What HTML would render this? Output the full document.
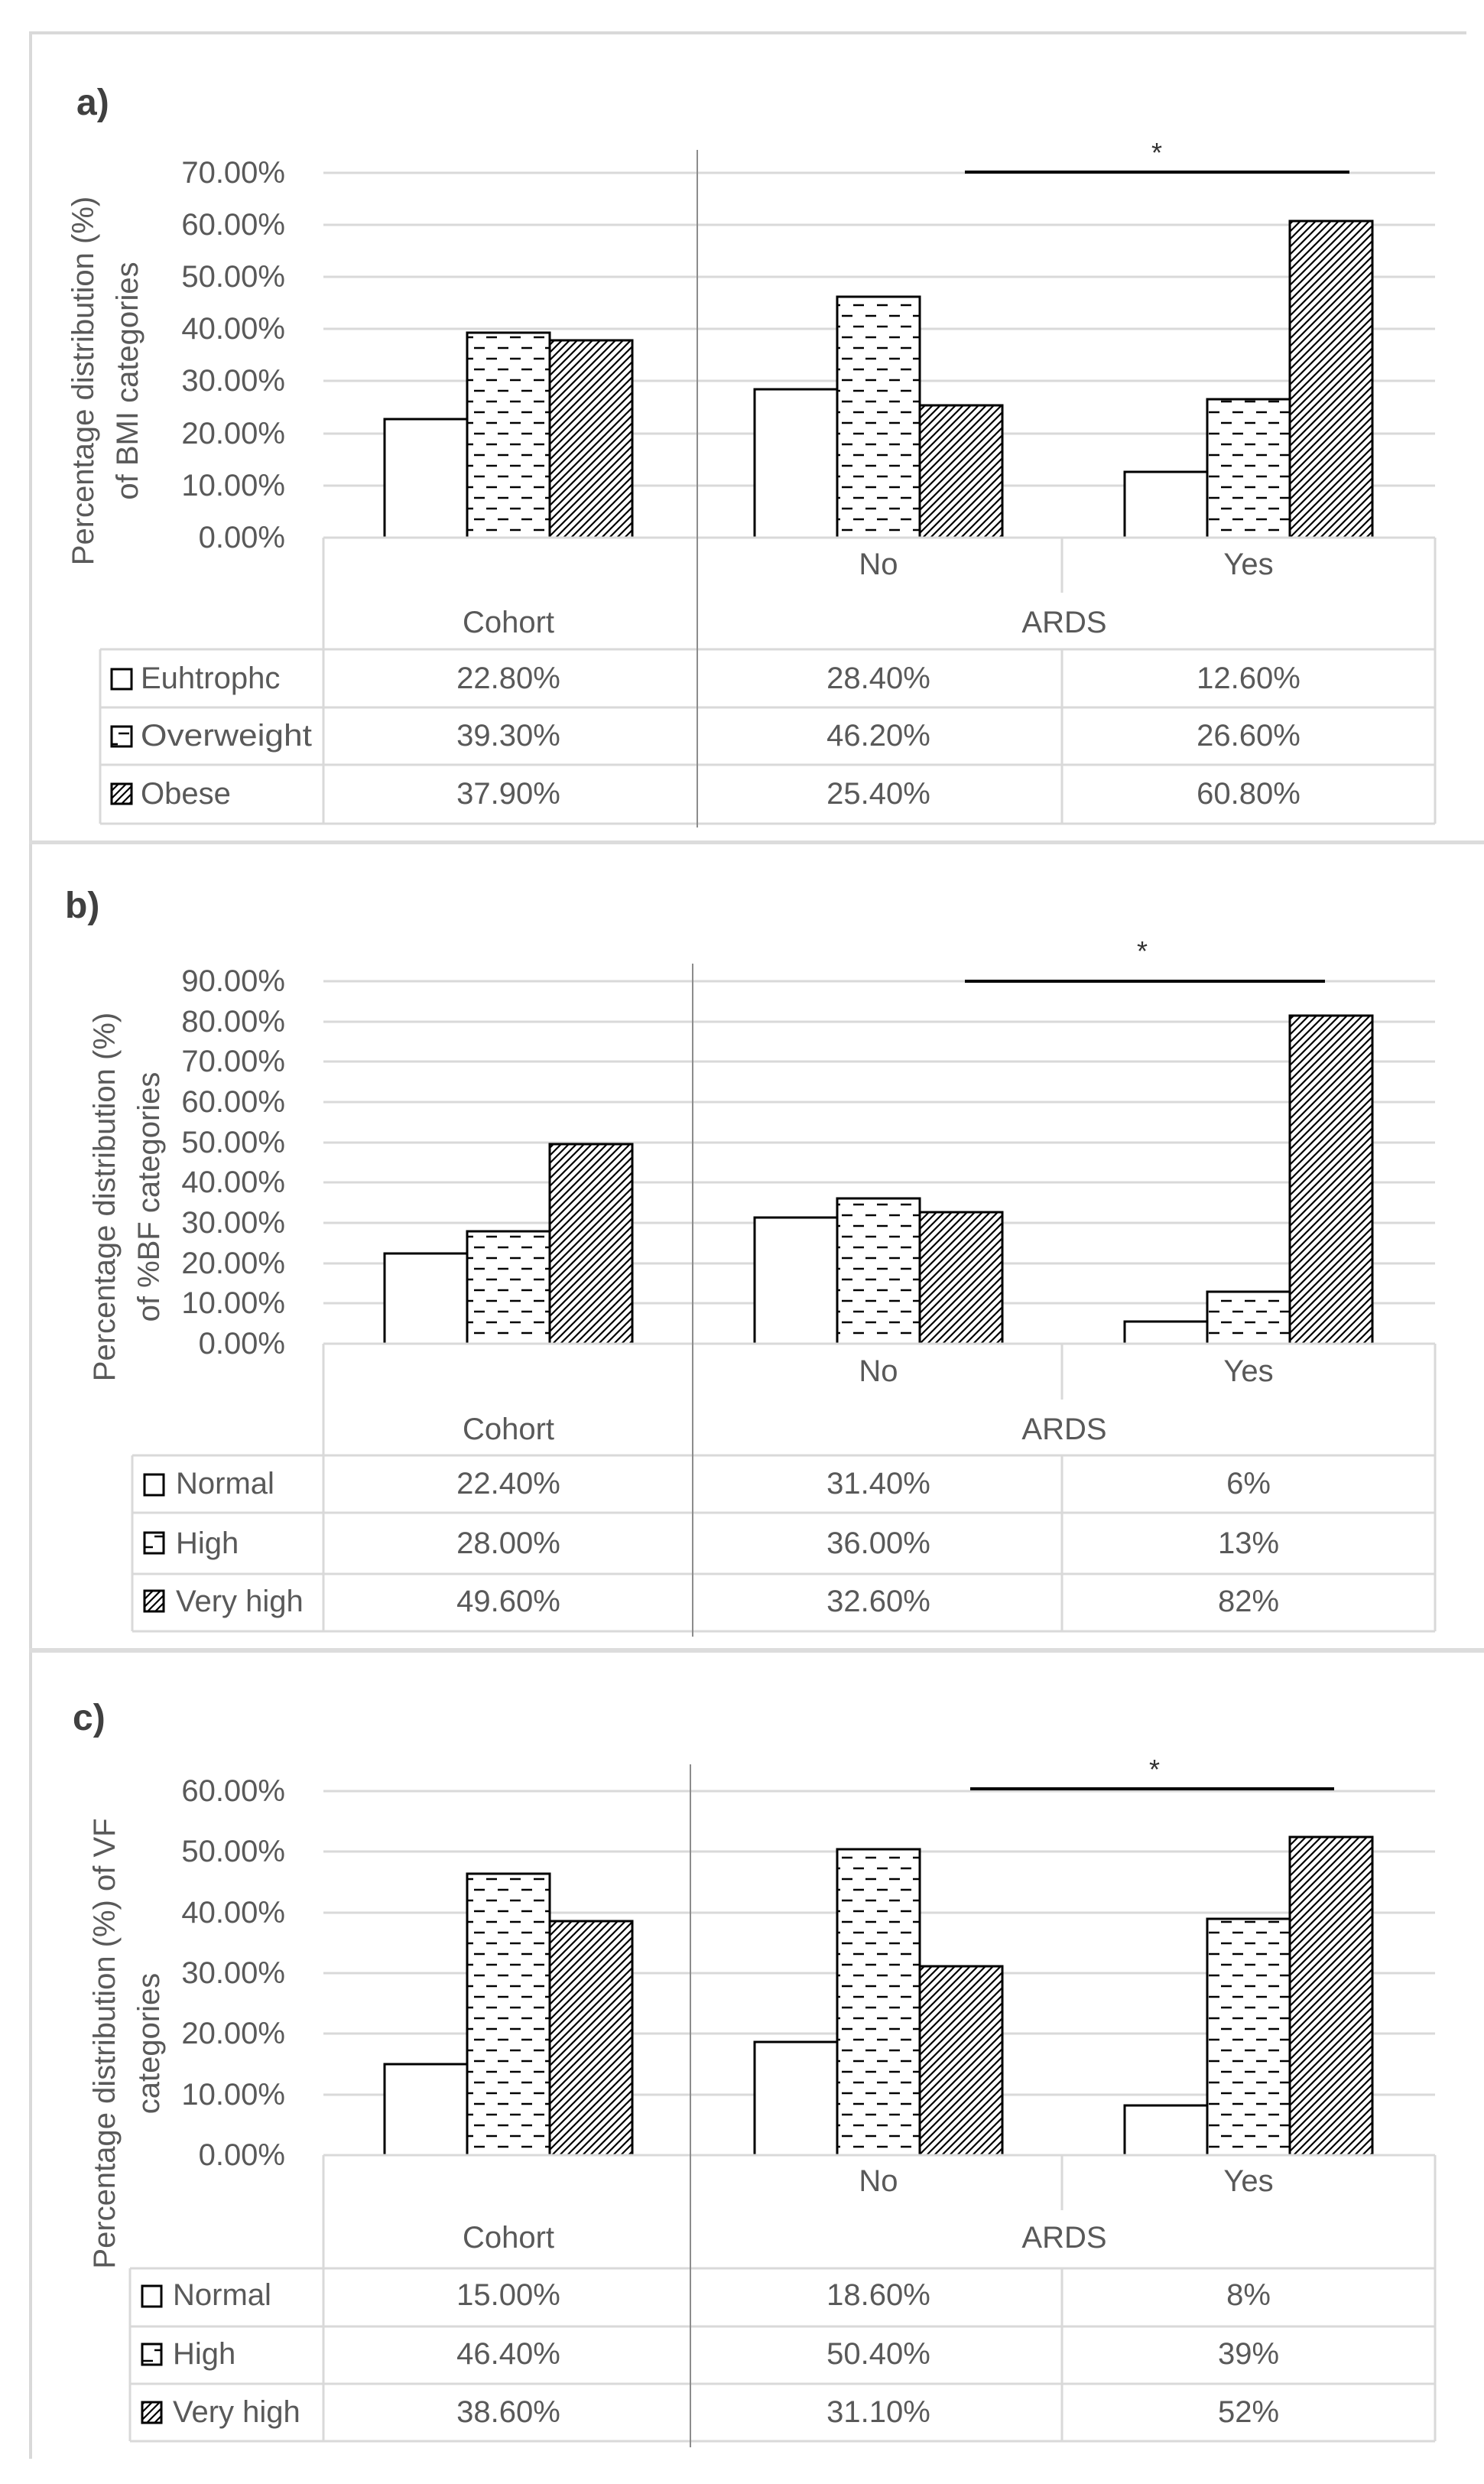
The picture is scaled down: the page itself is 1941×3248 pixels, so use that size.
<!DOCTYPE html>
<html><head><meta charset="utf-8"><style>
html,body{margin:0;padding:0;background:#fff;}
svg{display:block;}
text{font-family:"Liberation Sans",sans-serif;fill:#595959;}
</style></head><body>
<svg width="1941" height="3248" viewBox="0 0 1941 3248" xmlns="http://www.w3.org/2000/svg">
<defs>
<pattern id="dash" patternUnits="userSpaceOnUse" width="31" height="28" x="0" y="0">
<rect width="31" height="28" fill="#fff"/>
<line x1="0" y1="7" x2="14" y2="7" stroke="#000" stroke-width="2.5"/>
<line x1="16" y1="21" x2="30" y2="21" stroke="#000" stroke-width="2.5"/>
</pattern>
<pattern id="hatch" patternUnits="userSpaceOnUse" width="10" height="10">
<rect width="10" height="10" fill="#fff"/>
<path d="M-2,2 L2,-2 M0,10 L10,0 M8,12 L12,8" stroke="#000" stroke-width="2.2"/>
</pattern>
</defs>
<rect width="1941" height="3248" fill="#fff"/>

<!-- Panel borders -->
<g fill="none" stroke="#d9d9d9" stroke-width="4">
<path d="M40,1102 L40,43 L1918,43"/>
<path d="M40,2157 L40,1100"/>
<path d="M40,3215 L40,2161"/>
</g>
<rect x="38" y="1099" width="1903" height="5" fill="#dcdcdc"/>
<rect x="38" y="2155" width="1903" height="6" fill="#dcdcdc"/>

<!-- ================= PANEL A ================= -->
<text x="100" y="150" font-size="48" font-weight="bold" style="fill:#404040">a)</text>
<g stroke="#d9d9d9" stroke-width="3">
<line x1="423" y1="226" x2="1877" y2="226"/>
<line x1="423" y1="294" x2="1877" y2="294"/>
<line x1="423" y1="362" x2="1877" y2="362"/>
<line x1="423" y1="430" x2="1877" y2="430"/>
<line x1="423" y1="498" x2="1877" y2="498"/>
<line x1="423" y1="567" x2="1877" y2="567"/>
<line x1="423" y1="635" x2="1877" y2="635"/>
</g>
<g font-size="40" text-anchor="end" dominant-baseline="central">
<text x="373" y="226">70.00%</text>
<text x="373" y="294">60.00%</text>
<text x="373" y="362">50.00%</text>
<text x="373" y="430">40.00%</text>
<text x="373" y="498">30.00%</text>
<text x="373" y="567">20.00%</text>
<text x="373" y="635">10.00%</text>
<text x="373" y="703">0.00%</text>
</g>
<g font-size="40" text-anchor="middle">
<text transform="translate(122,498) rotate(-90)">Percentage distribution (%)</text>
<text transform="translate(180,498) rotate(-90)">of BMI categories</text>
</g>
<g stroke="#000" stroke-width="3">
<rect x="503" y="548" width="108" height="155" fill="#fff"/>
<rect x="611" y="435" width="108" height="268" fill="url(#dash)"/>
<rect x="719" y="445" width="108" height="258" fill="url(#hatch)"/>
<rect x="987" y="509" width="108" height="194" fill="#fff"/>
<rect x="1095" y="388" width="108" height="315" fill="url(#dash)"/>
<rect x="1203" y="530" width="108" height="173" fill="url(#hatch)"/>
<rect x="1471" y="617" width="108" height="86" fill="#fff"/>
<rect x="1579" y="522" width="108" height="181" fill="url(#dash)"/>
<rect x="1687" y="289" width="108" height="414" fill="url(#hatch)"/>
</g>
<line x1="1262" y1="225" x2="1765" y2="225" stroke="#000" stroke-width="4"/>
<text x="1513" y="212" font-size="36" text-anchor="middle" style="fill:#333">*</text>
<g stroke="#d9d9d9" stroke-width="3" fill="none">
<line x1="423" y1="703" x2="1877" y2="703"/>
<line x1="423" y1="703" x2="423" y2="1077"/>
<line x1="1389" y1="703" x2="1389" y2="775"/>
<line x1="1389" y1="849" x2="1389" y2="1077"/>
<line x1="1877" y1="703" x2="1877" y2="1077"/>
<line x1="131" y1="849" x2="1877" y2="849"/>
<line x1="131" y1="925" x2="1877" y2="925"/>
<line x1="131" y1="1000" x2="1877" y2="1000"/>
<line x1="131" y1="1077" x2="1877" y2="1077"/>
<line x1="131" y1="849" x2="131" y2="1077"/>
</g>
<line x1="912" y1="196" x2="912" y2="1082" stroke="#8c8c8c" stroke-width="2"/>
<g font-size="40" text-anchor="middle" dominant-baseline="central">
<text x="1149" y="738">No</text>
<text x="1633" y="738">Yes</text>
<text x="665" y="814">Cohort</text>
<text x="1392" y="814">ARDS</text>
<text x="665" y="887">22.80%</text>
<text x="1149" y="887">28.40%</text>
<text x="1633" y="887">12.60%</text>
<text x="665" y="962">39.30%</text>
<text x="1149" y="962">46.20%</text>
<text x="1633" y="962">26.60%</text>
<text x="665" y="1038">37.90%</text>
<text x="1149" y="1038">25.40%</text>
<text x="1633" y="1038">60.80%</text>
</g>
<g stroke="#000" stroke-width="3">
<rect x="146" y="875" width="26" height="26" fill="#fff"/>
<rect x="146" y="950" width="26" height="26" fill="url(#dash)"/>
<rect x="146" y="1025" width="26" height="26" fill="url(#hatch)"/>
</g>
<g font-size="40" dominant-baseline="central">
<text x="184" y="887">Euhtrophc</text>
<text x="184" y="962" textLength="224" lengthAdjust="spacingAndGlyphs">Overweight</text>
<text x="184" y="1038">Obese</text>
</g>

<!-- ================= PANEL B ================= -->
<text x="85" y="1200" font-size="48" font-weight="bold" style="fill:#404040">b)</text>
<g stroke="#d9d9d9" stroke-width="3">
<line x1="423" y1="1283" x2="1877" y2="1283"/>
<line x1="423" y1="1336" x2="1877" y2="1336"/>
<line x1="423" y1="1388" x2="1877" y2="1388"/>
<line x1="423" y1="1441" x2="1877" y2="1441"/>
<line x1="423" y1="1494" x2="1877" y2="1494"/>
<line x1="423" y1="1546" x2="1877" y2="1546"/>
<line x1="423" y1="1599" x2="1877" y2="1599"/>
<line x1="423" y1="1652" x2="1877" y2="1652"/>
<line x1="423" y1="1704" x2="1877" y2="1704"/>
</g>
<g font-size="40" text-anchor="end" dominant-baseline="central">
<text x="373" y="1283">90.00%</text>
<text x="373" y="1336">80.00%</text>
<text x="373" y="1388">70.00%</text>
<text x="373" y="1441">60.00%</text>
<text x="373" y="1494">50.00%</text>
<text x="373" y="1546">40.00%</text>
<text x="373" y="1599">30.00%</text>
<text x="373" y="1652">20.00%</text>
<text x="373" y="1704">10.00%</text>
<text x="373" y="1757">0.00%</text>
</g>
<g font-size="40" text-anchor="middle">
<text transform="translate(150,1565) rotate(-90)">Percentage distribution (%)</text>
<text transform="translate(208,1565) rotate(-90)">of %BF categories</text>
</g>
<g stroke="#000" stroke-width="3">
<rect x="503" y="1639" width="108" height="118" fill="#fff"/>
<rect x="611" y="1610" width="108" height="147" fill="url(#dash)"/>
<rect x="719" y="1496" width="108" height="261" fill="url(#hatch)"/>
<rect x="987" y="1592" width="108" height="165" fill="#fff"/>
<rect x="1095" y="1567" width="108" height="190" fill="url(#dash)"/>
<rect x="1203" y="1585" width="108" height="172" fill="url(#hatch)"/>
<rect x="1471" y="1728" width="108" height="29" fill="#fff"/>
<rect x="1579" y="1689" width="108" height="68" fill="url(#dash)"/>
<rect x="1687" y="1328" width="108" height="429" fill="url(#hatch)"/>
</g>
<line x1="1262" y1="1283" x2="1733" y2="1283" stroke="#000" stroke-width="4"/>
<text x="1494" y="1256" font-size="36" text-anchor="middle" style="fill:#333">*</text>
<g stroke="#d9d9d9" stroke-width="3" fill="none">
<line x1="423" y1="1757" x2="1877" y2="1757"/>
<line x1="423" y1="1757" x2="423" y2="2133"/>
<line x1="1389" y1="1757" x2="1389" y2="1830"/>
<line x1="1389" y1="1903" x2="1389" y2="2133"/>
<line x1="1877" y1="1757" x2="1877" y2="2133"/>
<line x1="173" y1="1903" x2="1877" y2="1903"/>
<line x1="173" y1="1978" x2="1877" y2="1978"/>
<line x1="173" y1="2058" x2="1877" y2="2058"/>
<line x1="173" y1="2133" x2="1877" y2="2133"/>
<line x1="173" y1="1903" x2="173" y2="2133"/>
</g>
<line x1="906" y1="1260" x2="906" y2="2140" stroke="#8c8c8c" stroke-width="2"/>
<g font-size="40" text-anchor="middle" dominant-baseline="central">
<text x="1149" y="1793">No</text>
<text x="1633" y="1793">Yes</text>
<text x="665" y="1869">Cohort</text>
<text x="1392" y="1869">ARDS</text>
<text x="665" y="1940">22.40%</text>
<text x="1149" y="1940">31.40%</text>
<text x="1633" y="1940">6%</text>
<text x="665" y="2018">28.00%</text>
<text x="1149" y="2018">36.00%</text>
<text x="1633" y="2018">13%</text>
<text x="665" y="2094">49.60%</text>
<text x="1149" y="2094">32.60%</text>
<text x="1633" y="2094">82%</text>
</g>
<g stroke="#000" stroke-width="3">
<rect x="189" y="1928" width="25" height="27" fill="#fff"/>
<rect x="189" y="2004" width="25" height="27" fill="url(#dash)"/>
<rect x="189" y="2080" width="25" height="27" fill="url(#hatch)"/>
</g>
<g font-size="40" dominant-baseline="central">
<text x="230" y="1940">Normal</text>
<text x="230" y="2018">High</text>
<text x="230" y="2094">Very high</text>
</g>

<!-- ================= PANEL C ================= -->
<text x="95" y="2262" font-size="48" font-weight="bold" style="fill:#404040">c)</text>
<g stroke="#d9d9d9" stroke-width="3">
<line x1="423" y1="2342" x2="1877" y2="2342"/>
<line x1="423" y1="2421" x2="1877" y2="2421"/>
<line x1="423" y1="2501" x2="1877" y2="2501"/>
<line x1="423" y1="2580" x2="1877" y2="2580"/>
<line x1="423" y1="2659" x2="1877" y2="2659"/>
<line x1="423" y1="2739" x2="1877" y2="2739"/>
</g>
<g font-size="40" text-anchor="end" dominant-baseline="central">
<text x="373" y="2342">60.00%</text>
<text x="373" y="2421">50.00%</text>
<text x="373" y="2501">40.00%</text>
<text x="373" y="2580">30.00%</text>
<text x="373" y="2659">20.00%</text>
<text x="373" y="2739">10.00%</text>
<text x="373" y="2818">0.00%</text>
</g>
<g font-size="40" text-anchor="middle">
<text transform="translate(150,2672) rotate(-90)">Percentage distribution (%) of VF</text>
<text transform="translate(208,2672) rotate(-90)">categories</text>
</g>
<g stroke="#000" stroke-width="3">
<rect x="503" y="2699" width="108" height="119" fill="#fff"/>
<rect x="611" y="2450" width="108" height="368" fill="url(#dash)"/>
<rect x="719" y="2512" width="108" height="306" fill="url(#hatch)"/>
<rect x="987" y="2670" width="108" height="148" fill="#fff"/>
<rect x="1095" y="2418" width="108" height="400" fill="url(#dash)"/>
<rect x="1203" y="2571" width="108" height="247" fill="url(#hatch)"/>
<rect x="1471" y="2753" width="108" height="65" fill="#fff"/>
<rect x="1579" y="2509" width="108" height="309" fill="url(#dash)"/>
<rect x="1687" y="2402" width="108" height="416" fill="url(#hatch)"/>
</g>
<line x1="1269" y1="2339" x2="1745" y2="2339" stroke="#000" stroke-width="4"/>
<text x="1510" y="2326" font-size="36" text-anchor="middle" style="fill:#333">*</text>
<g stroke="#d9d9d9" stroke-width="3" fill="none">
<line x1="423" y1="2818" x2="1877" y2="2818"/>
<line x1="423" y1="2818" x2="423" y2="3192"/>
<line x1="1389" y1="2818" x2="1389" y2="2890"/>
<line x1="1389" y1="2966" x2="1389" y2="3192"/>
<line x1="1877" y1="2818" x2="1877" y2="3192"/>
<line x1="170" y1="2966" x2="1877" y2="2966"/>
<line x1="170" y1="3042" x2="1877" y2="3042"/>
<line x1="170" y1="3117" x2="1877" y2="3117"/>
<line x1="170" y1="3192" x2="1877" y2="3192"/>
<line x1="170" y1="2966" x2="170" y2="3192"/>
</g>
<line x1="903" y1="2307" x2="903" y2="3200" stroke="#8c8c8c" stroke-width="2"/>
<g font-size="40" text-anchor="middle" dominant-baseline="central">
<text x="1149" y="2852">No</text>
<text x="1633" y="2852">Yes</text>
<text x="665" y="2926">Cohort</text>
<text x="1392" y="2926">ARDS</text>
<text x="665" y="3001">15.00%</text>
<text x="1149" y="3001">18.60%</text>
<text x="1633" y="3001">8%</text>
<text x="665" y="3078">46.40%</text>
<text x="1149" y="3078">50.40%</text>
<text x="1633" y="3078">39%</text>
<text x="665" y="3154">38.60%</text>
<text x="1149" y="3154">31.10%</text>
<text x="1633" y="3154">52%</text>
</g>
<g stroke="#000" stroke-width="3">
<rect x="186" y="2989" width="25" height="27" fill="#fff"/>
<rect x="186" y="3065" width="25" height="27" fill="url(#dash)"/>
<rect x="186" y="3141" width="25" height="27" fill="url(#hatch)"/>
</g>
<g font-size="40" dominant-baseline="central">
<text x="226" y="3001">Normal</text>
<text x="226" y="3078">High</text>
<text x="226" y="3154">Very high</text>
</g>
</svg>
</body></html>
